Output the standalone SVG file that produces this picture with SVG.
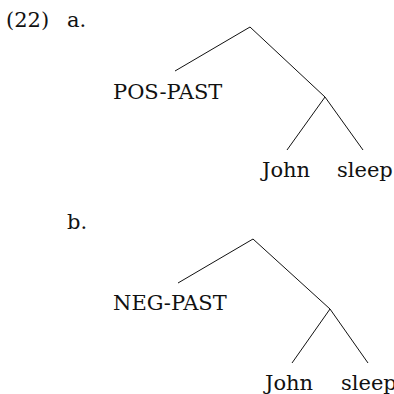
<svg xmlns="http://www.w3.org/2000/svg" width="394" height="394" viewBox="0 0 394 394">
  <style>
    .edge { stroke: #111; stroke-width: 1; fill: none; }
  </style>
  <rect width="394" height="394" fill="#fff"/>
  <g font-family="DejaVu Serif, Liberation Serif, serif" font-size="21" fill="#111">
    <g id="labels">
      <text x="6" y="27">(22)</text>
      <text x="67" y="27">a.</text>
      <text x="67" y="229">b.</text>
    </g>
    <g id="a-pos-past"><text x="113" y="99">POS-PAST</text></g>
    <g id="a-john"><text x="262" y="177">John</text></g>
    <g id="a-sleep"><text x="337" y="177">sleep</text></g>
    <g id="b-neg-past"><text x="113" y="310">NEG-PAST</text></g>
    <g id="b-john"><text x="265" y="390">John</text></g>
    <g id="b-sleep"><text x="341" y="390">sleep</text></g>
  </g>
  <g id="connectors">
    <!-- tree a -->
    <line class="edge" x1="250" y1="27" x2="175" y2="71"/>
    <line class="edge" x1="250" y1="27" x2="325" y2="97"/>
    <line class="edge" x1="325" y1="97" x2="287" y2="150"/>
    <line class="edge" x1="325" y1="97" x2="363" y2="150"/>
    <!-- tree b -->
    <line class="edge" x1="253" y1="239" x2="178" y2="283"/>
    <line class="edge" x1="253" y1="239" x2="330" y2="309"/>
    <line class="edge" x1="330" y1="309" x2="292" y2="363"/>
    <line class="edge" x1="330" y1="309" x2="368" y2="363"/>
  </g>
</svg>
